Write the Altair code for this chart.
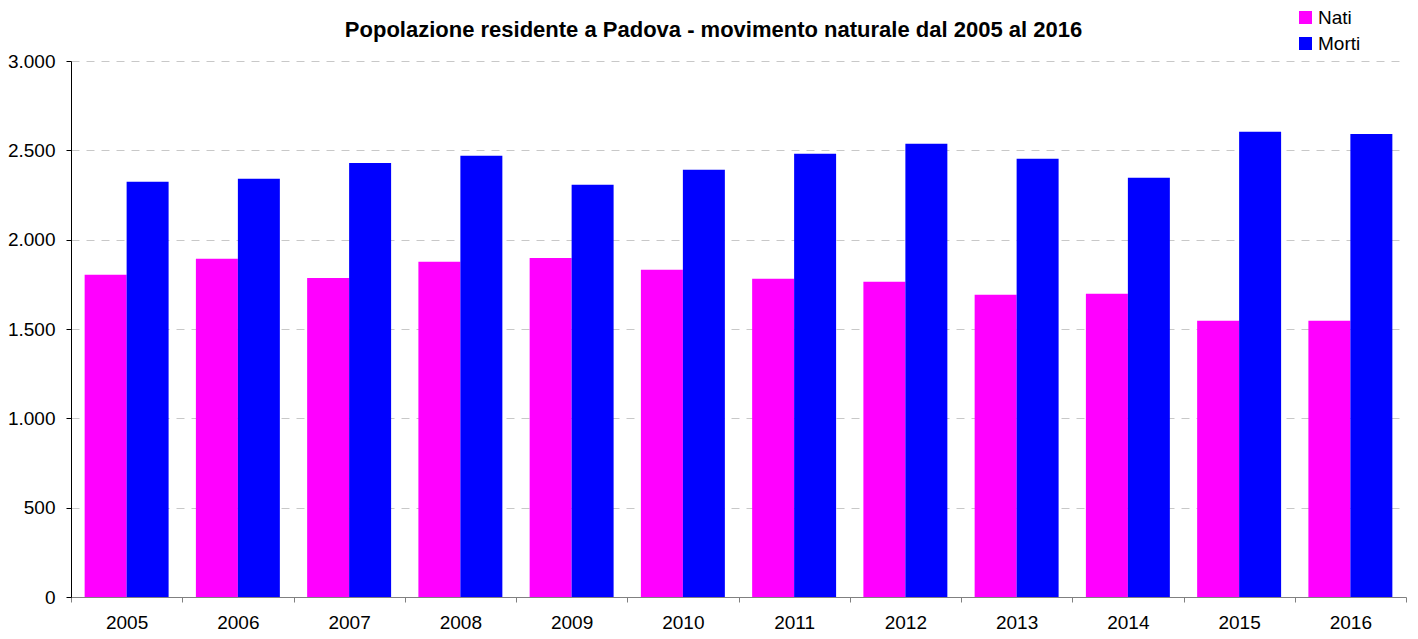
import altair as alt
import pandas as pd

years = ["2005", "2006", "2007", "2008", "2009", "2010", "2011", "2012", "2013", "2014", "2015", "2016"]
nati = [1803, 1893, 1786, 1876, 1898, 1831, 1781, 1764, 1691, 1697, 1546, 1546]
morti = [2324, 2341, 2429, 2470, 2307, 2391, 2481, 2537, 2453, 2346, 2604, 2591]
series = ["Nati", "Morti"]
colors = ["#FF00FF", "#0000FF"]

rows = []
for i, y in enumerate(years):
    rows.append({"anno": y, "serie": "Nati", "valore": nati[i]})
    rows.append({"anno": y, "serie": "Morti", "valore": morti[i]})
df = pd.DataFrame(rows)

FONT = "Liberation Sans"

chart = alt.Chart(df).mark_bar(stroke=None).encode(
    x=alt.X("anno:N", title=None, sort=years,
            scale=alt.Scale(paddingInner=0, paddingOuter=0),
            axis=alt.Axis(labelAngle=0, tickBand="extent", domainColor="#808080",
                          tickColor="#808080", tickSize=5, labelPadding=11,
                          labelFontSize=19, labelColor="#000000", labelFont=FONT,
                          grid=False)),
    xOffset=alt.XOffset("serie:N", sort=series,
                        scale=alt.Scale(paddingInner=0, paddingOuter=0.325)),
    y=alt.Y("valore:Q", title=None,
            scale=alt.Scale(domain=[0, 3000], nice=False),
            axis=alt.Axis(values=[0, 500, 1000, 1500, 2000, 2500, 3000],
                          labelExpr="replace(format(datum.value, ',d'), ',', '.')",
                          domainColor="#000000", tickColor="#000000", tickSize=5,
                          labelPadding=11, labelFontSize=19, labelColor="#000000",
                          labelFont=FONT, grid=True, gridColor="#c8c8c8",
                          gridDash=[8, 7], gridWidth=1)),
    color=alt.Color("serie:N", sort=series,
                    scale=alt.Scale(domain=series, range=colors),
                    legend=alt.Legend(title=None, orient="none", legendX=1225, legendY=-53,
                                      symbolType="square", symbolSize=169,
                                      symbolStrokeWidth=0, labelFontSize=19,
                                      labelFont=FONT, labelColor="#000000",
                                      padding=0, rowPadding=6, labelOffset=3)),
).properties(
    width=1335,
    height=536,
    title=alt.Title("Popolazione residente a Padova - movimento naturale dal 2005 al 2016",
                    font=FONT, fontSize=22, fontWeight="bold", color="#000000",
                    anchor="middle", dx=-25, offset=-34),
    autosize=alt.AutoSizeParams(type="none"),
    padding={"left": 63, "top": 53, "right": 4, "bottom": 34},
).configure_view(stroke=None)

chart.save("out.html", embed_options={"renderer": "svg", "actions": False})
